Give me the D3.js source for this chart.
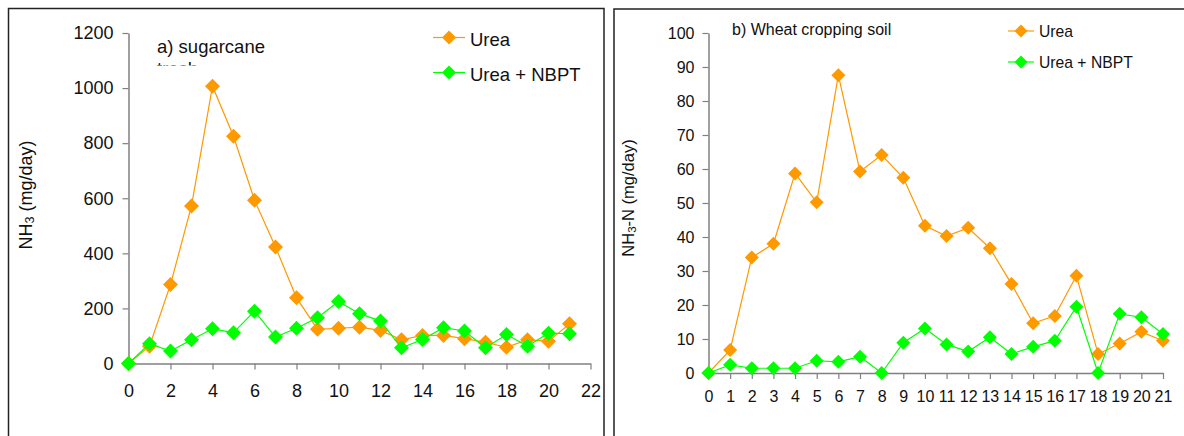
<!DOCTYPE html>
<html>
<head>
<meta charset="utf-8">
<script src="https://cdn.jsdelivr.net/npm/d3@7"></script>
<style>
  html, body { margin: 0; padding: 0; background: #fff; }
  svg { display: block; font-family: "Liberation Sans", Arial, sans-serif; }
</style>
</head>
<body>
<svg id="chart" width="1184" height="436"></svg>
<script>
// ---- data ----
const days = d3.range(0, 22);
const seriesNames = ["Urea", "Urea + NBPT"];
const seriesColors = ["#FF9900", "#00FF00"];

const sugarUrea = [0, 63, 287, 572, 1007, 825, 593, 423, 239, 124, 128, 132, 120, 86, 102, 102, 90, 77, 59, 86, 81, 144];
const sugarNBPT = [0, 72, 45, 86, 126, 112, 190, 96, 128, 166, 225, 181, 154, 57, 87, 130, 118, 57, 105, 63, 110, 108];

const wheatUrea = [0, 6.8, 34.0, 38.0, 58.7, 50.2, 87.6, 59.3, 64.1, 57.4, 43.3, 40.3, 42.7, 36.7, 26.2, 14.6, 16.8, 28.6, 5.6, 8.7, 12.1, 9.5];
const wheatNBPT = [0, 2.4, 1.4, 1.4, 1.4, 3.6, 3.3, 4.8, 0, 8.9, 13.1, 8.4, 6.3, 10.5, 5.6, 7.7, 9.5, 19.5, 0, 17.4, 16.4, 11.5];

const sugarYTicks = [0, 200, 400, 600, 800, 1000, 1200];
const sugarXTicks = [0, 2, 4, 6, 8, 10, 12, 14, 16, 18, 20, 22];
const wheatYTicks = [0, 10, 20, 30, 40, 50, 60, 70, 80, 90, 100];
const wheatXTicks = d3.range(0, 22);

const svg = d3.select("#chart");

// panel frames
svg.append("rect").attr("x", 8.5).attr("y", 8.5).attr("width", 595.5).attr("height", 460)
  .attr("fill", "none").attr("stroke", "#222").attr("stroke-width", 1.5);
svg.append("rect").attr("x", 614).attr("y", 9).attr("width", 600).attr("height", 460)
  .attr("fill", "none").attr("stroke", "#222").attr("stroke-width", 1.5);

function diamond(r) {
  return `M0,${-r}L${r},0L0,${r}L${-r},0Z`;
}

function panel(cfg) {
  const g = svg.append("g");
  const x = d3.scaleLinear().domain(cfg.xDomain).range(cfg.xRange);
  const y = d3.scaleLinear().domain(cfg.yDomain).range(cfg.yRange);
  const fmt = d3.format("d");

  const ya = g.append("g").attr("transform", `translate(${cfg.xRange[0]},0)`)
    .call(d3.axisLeft(y).tickValues(cfg.yTicks).tickFormat(fmt).tickSize(cfg.tick).tickPadding(cfg.yPad).tickSizeOuter(0));
  const xa = g.append("g").attr("transform", `translate(0,${cfg.yRange[0]})`)
    .call(d3.axisBottom(x).tickValues(cfg.xTicks).tickFormat(fmt).tickSize(cfg.tick).tickPadding(cfg.xPad).tickSizeOuter(0));
  [ya, xa].forEach(a => {
    a.attr("font-size", cfg.font).attr("font-family", "'Liberation Sans', Arial, sans-serif");
    a.select(".domain").attr("stroke", "#808080").attr("stroke-width", 1.5);
    a.selectAll(".tick line").attr("stroke", "#808080").attr("stroke-width", 1.2);
    a.selectAll(".tick text").attr("fill", "#111");
  });

  // y label
  const lab = g.append("text")
    .attr("transform", `translate(${cfg.yLabelX},${cfg.yLabelY}) rotate(-90)`)
    .attr("text-anchor", "middle").attr("font-size", cfg.labelFont).attr("fill", "#111");
  lab.append("tspan").text("NH");
  lab.append("tspan").text("3").attr("font-size", cfg.labelFont * 0.7).attr("dy", 2);
  lab.append("tspan").text(cfg.yLabelRest).attr("dy", -2);

  // series
  const line = d3.line().x((d, i) => x(days[i])).y(d => y(d));
  cfg.series.forEach((vals, si) => {
    g.append("path").datum(vals).attr("d", line)
      .attr("fill", "none").attr("stroke", seriesColors[si]).attr("stroke-width", 1.2);
    g.selectAll(null).data(vals).enter().append("path")
      .attr("d", diamond(cfg.markerR))
      .attr("transform", (d, i) => `translate(${x(days[i])},${y(d)})`)
      .attr("fill", seriesColors[si]);
  });

  // legend
  seriesNames.forEach((name, si) => {
    const ly = cfg.legendY[si];
    g.append("line").attr("x1", cfg.legendX[0]).attr("x2", cfg.legendX[1])
      .attr("y1", ly).attr("y2", ly).attr("stroke", seriesColors[si]).attr("stroke-width", 1.2);
    g.append("path").attr("d", diamond(cfg.markerR - 0.5))
      .attr("transform", `translate(${(cfg.legendX[0] + cfg.legendX[1]) / 2},${ly})`)
      .attr("fill", seriesColors[si]);
    g.append("text").attr("x", cfg.legendX[1] + 5).attr("y", ly + cfg.legendDy)
      .attr("font-size", cfg.legendFont).attr("fill", "#111").text(name);
  });
  return g;
}

panel({
  xDomain: [0, 22], xRange: [128.5, 590.5],
  yDomain: [0, 1200], yRange: [363.5, 33],
  yTicks: sugarYTicks, xTicks: sugarXTicks,
  tick: 6, yPad: 9, xPad: 15, font: 18,
  yLabelX: 31.5, yLabelY: 195, labelFont: 18, yLabelRest: " (mg/day)",
  series: [sugarUrea, sugarNBPT], markerR: 7.5,
  legendX: [433, 465], legendY: [37.5, 72.5], legendDy: 8.5, legendFont: 18.5
});

panel({
  xDomain: [0, 21], xRange: [708.5, 1163],
  yDomain: [0, 100], yRange: [373, 33],
  yTicks: wheatYTicks, xTicks: wheatXTicks,
  tick: 6, yPad: 8, xPad: 12, font: 16,
  yLabelX: 633.5, yLabelY: 198, labelFont: 16.5, yLabelRest: "-N (mg/day)",
  series: [wheatUrea, wheatNBPT], markerR: 7,
  legendX: [1008, 1034], legendY: [31, 62], legendDy: 5.5, legendFont: 15.7
});

// titles
svg.append("text").attr("x", 157).attr("y", 52.5).attr("font-size", 18.5).attr("fill", "#111").text("a) sugarcane");
svg.append("clipPath").attr("id", "trashClip").append("rect")
  .attr("x", 150).attr("y", 56).attr("width", 100).attr("height", 9.5);
svg.append("text").attr("x", 157).attr("y", 75).attr("font-size", 18.5).attr("fill", "#111")
  .attr("clip-path", "url(#trashClip)").text("trash");
svg.append("text").attr("x", 732).attr("y", 35).attr("font-size", 16).attr("fill", "#111").text("b) Wheat cropping soil");
</script>
</body>
</html>
